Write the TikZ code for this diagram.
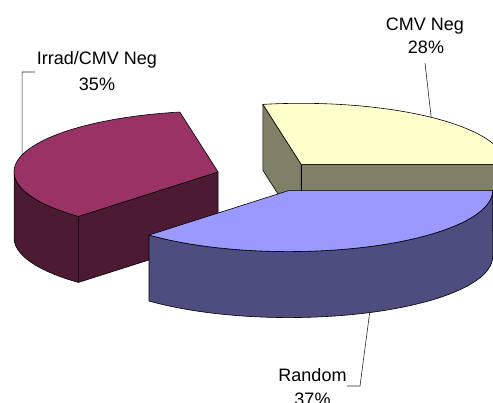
\documentclass[tikz,border=0pt]{standalone}
\usepackage{fontspec}
\setmainfont{Liberation Sans}
\usetikzlibrary{calc}
\definecolor{mtop}{HTML}{993366}
\definecolor{mside}{HTML}{4D1A33}
\definecolor{ytop}{HTML}{FFFFCC}
\definecolor{yside}{HTML}{808066}
\definecolor{btop}{HTML}{9999FF}
\definecolor{bside}{HTML}{4D4D80}
\begin{document}
\begin{tikzpicture}[x=1pt,y=1pt,
  face/.style={draw=black,line width=0.6pt,line join=round},
  lbl/.style={font=\fontsize{18}{22}\selectfont,inner sep=0pt,anchor=base},
  leader/.style={draw=black!85,line width=0.6pt}]
\useasboundingbox (0,0) rectangle (493,403);
\clip (0,0) rectangle (493,403);
\def\ra{204}\def\rb{61}\def\th{66}
% apexes
\coordinate (Ay) at (301.15,238.68);
\coordinate (Am) at (218.05,231.04);
\coordinate (Ab) at (288.66,212.42);
\coordinate (Ayb) at ($(Ay)+(0,-\th)$);
\coordinate (Amb) at ($(Am)+(0,-\th)$);
% yellow rim points
\coordinate (Y0) at ($(Ay)+(\ra,0)$);
\coordinate (Y0b) at ($(Y0)+(0,-\th)$);
\coordinate (Y1) at ($(Ay)+({\ra*cos(100.8)},{\rb*sin(100.8)})$);
\coordinate (Y1b) at ($(Y1)+(0,-\th)$);
% maroon rim points
\coordinate (M1) at ($(Am)+({\ra*cos(100.8)},{\rb*sin(100.8)})$);
\coordinate (M180) at ($(Am)+(-\ra,0)$);
\coordinate (M2) at ($(Am)+({\ra*cos(226.8)},{\rb*sin(226.8)})$);
\coordinate (M2b) at ($(M2)+(0,-\th)$);
% blue rim points
\coordinate (B1) at ($(Ab)+({\ra*cos(226.8)},{\rb*sin(226.8)})$);
\coordinate (B0b) at ($(Ab)+(\ra,-\th)$);
% yellow slice
\path[face,fill=yside] (Ay) -- (Y1) -- (Y1b) -- (Ayb) -- cycle;
\path[face,fill=yside] (Ay) -- (Y0) -- (Y0b) -- (Ayb) -- cycle;
\path[face,fill=ytop] (Ay) -- (Y0) arc[start angle=0,end angle=100.8,x radius=\ra,y radius=\rb] -- cycle;
% maroon slice
\path[face,fill=mside] (M180) arc[start angle=180,end angle=226.8,x radius=\ra,y radius=\rb] -- (M2b) arc[start angle=226.8,end angle=180,x radius=\ra,y radius=\rb] -- cycle;
\path[face,fill=mside] (Am) -- (M2) -- (M2b) -- (Amb) -- cycle;
\path[face,fill=mtop] (Am) -- (M1) arc[start angle=100.8,end angle=226.8,x radius=\ra,y radius=\rb] -- cycle;
% blue slice
\path[face,fill=bside] (B1) arc[start angle=226.8,end angle=360,x radius=\ra,y radius=\rb] -- (B0b) arc[start angle=360,end angle=226.8,x radius=\ra,y radius=\rb] -- cycle;
\path[face,fill=btop] (Ab) -- (B1) arc[start angle=226.8,end angle=360,x radius=\ra,y radius=\rb] -- cycle;
% labels
\node[lbl] (tIrrad) at (97,338) {Irrad/CMV Neg};
\node[lbl] (pIrrad) at (97,312.5) {35\%};
\node[lbl] (tCmv) at (425,372.3) {CMV Neg};
\node[lbl] (pCmv) at (426,349) {28\%};
\node[lbl] (tRand) at (312.5,21.3) {Random};
\node[lbl] (pRand) at (312.5,-3) {37\%};
% leader lines
\coordinate (mRim) at ($(Am)+({\ra*cos(163.8)},{\rb*sin(163.8)})$);
\coordinate (yRim) at ($(Ay)+({\ra*cos(50.4)},{\rb*sin(50.4)})$);
\coordinate (bRim) at ($(Ab)+({\ra*cos(293.4)},{\rb*sin(293.4)-\th})$);
\coordinate (lI0) at (35,331);
\coordinate (lI1) at (22.1,331);
\coordinate (lC0) at (425,340);
\coordinate (lR0) at (347,17);
\coordinate (lR1) at (360,17);
\draw[leader] (lI0) -- (lI1) -- (mRim);
\draw[leader] (lC0) -- (yRim);
\draw[leader] (lR0) -- (lR1) -- (bRim);
\end{tikzpicture}
\end{document}
